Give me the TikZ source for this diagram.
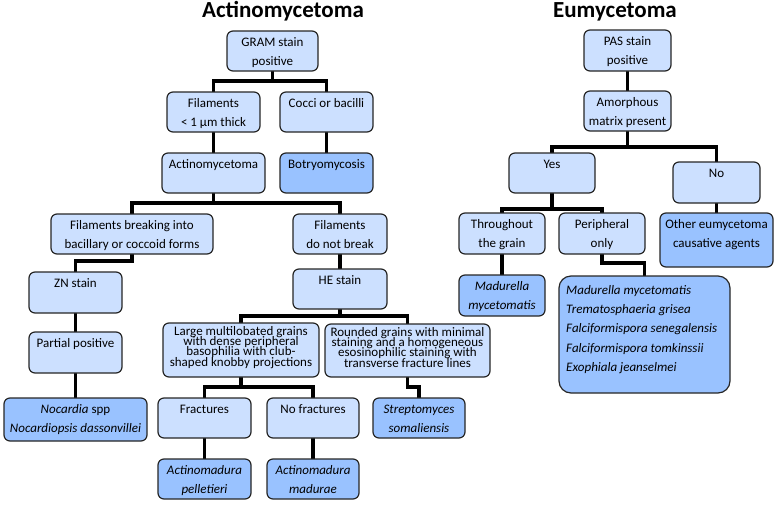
\documentclass[tikz,border=0pt]{standalone}
\usepackage{fontspec}
\setmainfont{Carlito}
\usetikzlibrary{backgrounds}
\definecolor{lightblue}{RGB}{204,224,255}
\definecolor{darkblue}{RGB}{153,194,255}
\tikzset{
  boxbase/.style={draw=black!85, line width=1.2pt, rounded corners=6pt, inner sep=0pt, outer sep=0pt},
  lightbox/.style={boxbase, fill=lightblue},
  darkbox/.style={boxbase, fill=darkblue},
  txt/.style={inner sep=0pt, align=center, font={\fontsize{13}{19}\selectfont}, yshift=-5.5pt},
  dense/.style={inner sep=0pt, align=center, font={\fontsize{13}{10.3}\selectfont\lineskiplimit=-100pt\lineskip=0pt}, yshift=-2pt},
  conn/.style={line width=3.5pt, draw=black},
  title/.style={font={\fontsize{23}{28}\selectfont\bfseries}, inner sep=0pt, anchor=base}
}
\newcommand\mkbox[8]{%
  \node[#6, minimum width={(#4)-(#2)}, minimum height={(#5)-(#3)}] (#1) at ({((#2)+(#4))/2},{((#3)+(#5))/2}) {};
  \node[#7, anchor=north] (#1t) at (#1.north) {\rule{0pt}{10pt}#8};}
\begin{document}
\begin{tikzpicture}[x=1pt,y=-1pt]
\useasboundingbox (0,0) rectangle (777,504);
% titles
\node[title] (t1) at (283,17.5) {Actinomycetoma};
\node[title] (t2) at (615,17.5) {Eumycetoma};
% Actinomycetoma
\mkbox{gram}{227}{31}{318}{71}{lightbox}{txt}{GRAM stain\\positive}
\mkbox{fil}{167}{92}{260}{132}{lightbox}{txt}{Filaments\\< 1 μm thick}
\mkbox{cocci}{280}{92}{373}{132}{lightbox}{txt}{Cocci or bacilli}
\mkbox{actino}{162}{153}{265}{193}{lightbox}{txt}{Actinomycetoma}
\mkbox{botryo}{280}{153}{373}{193}{darkbox}{txt}{Botryomycosis}
\mkbox{fbreak}{51}{214}{213}{254}{lightbox}{txt}{Filaments breaking into\\bacillary or coccoid forms}
\mkbox{fnob}{293}{214}{387}{254}{lightbox}{txt}{Filaments\\do not break}
\mkbox{zn}{29}{272}{122}{313}{lightbox}{txt}{ZN stain}
\mkbox{he}{293}{269}{387}{309}{lightbox}{txt}{HE stain}
\mkbox{partial}{29}{332}{122}{373}{lightbox}{txt}{Partial positive}
\mkbox{large}{163}{323}{319}{377}{lightbox}{dense}{Large multilobated grains\\with dense peripheral\\basophilia with club-\\shaped knobby projections}
\mkbox{round}{325}{324}{490}{377}{lightbox}{dense}{Rounded grains with minimal\\staining and a homogeneous\\esosinophilic staining with\\transverse fracture lines}
\mkbox{nocardia}{4}{398}{147}{441}{darkbox}{txt}{\textit{Nocardia} spp\\\textit{Nocardiopsis dassonvillei}}
\mkbox{fract}{158}{398}{251}{438}{lightbox}{txt}{Fractures}
\mkbox{nofract}{267}{398}{359}{438}{lightbox}{txt}{No fractures}
\mkbox{strep}{373}{398}{465}{438}{darkbox}{txt}{\textit{Streptomyces}\\\textit{somaliensis}}
\mkbox{apel}{158}{459}{251}{499}{darkbox}{txt}{\textit{Actinomadura}\\\textit{pelletieri}}
\mkbox{amad}{267}{459}{359}{499}{darkbox}{txt}{\textit{Actinomadura}\\\textit{madurae}}
% Eumycetoma
\mkbox{pas}{584}{30}{671}{71}{lightbox}{txt}{PAS stain\\positive}
\mkbox{amorph}{584}{91}{671}{131}{lightbox}{txt}{Amorphous\\matrix present}
\mkbox{yes}{509}{153}{595}{193}{lightbox}{txt}{Yes}
\mkbox{no}{673}{162}{760}{203}{lightbox}{txt}{No}
\mkbox{through}{459}{213}{545}{254}{lightbox}{txt}{Throughout\\the grain}
\mkbox{periph}{559}{213}{645}{254}{lightbox}{txt}{Peripheral\\only}
\mkbox{other}{660}{213}{773}{267}{darkbox}{txt}{Other eumycetoma\\causative agents}
\mkbox{madm}{459}{275}{545}{316}{darkbox}{txt}{\textit{Madurella}\\\textit{mycetomatis}}
\node[darkbox, rounded corners=12pt, minimum width=171, minimum height=117] (big) at (644.5,334.5) {};
\node[inner sep=0pt, anchor=north west, align=left, font={\fontsize{13}{19.3}\selectfont}] (bigt) at (566,284)
  {\rule{0pt}{10pt}\textit{Madurella mycetomatis}\\\textit{Trematosphaeria grisea}\\\textit{Falciformispora senegalensis}\\\textit{Falciformispora tomkinssii}\\\textit{Exophiala jeanselmei}};
% connectors
\begin{pgfonlayer}{background}
\draw[conn] (gram.south) -- ++(0,10) -| (fil.north);
\draw[conn] (gram.south) -- ++(0,10) -| (cocci.north);
\draw[conn] (fil.south) -- (actino.north);
\draw[conn] (cocci.south) -- (botryo.north);
\draw[conn] (actino.south) -- ++(0,10) -| (fbreak.north);
\draw[conn] (actino.south) -- ++(0,10) -| (fnob.north);
\draw[conn] (fbreak.south) -- ++(0,7) -| (zn.north);
\draw[conn] (fnob.south) -- (he.north);
\draw[conn] (zn.south) -- (partial.north);
\draw[conn] (partial.south) -- (nocardia.north);
\draw[conn] (he.south) -- ++(0,7) -| (large.north);
\draw[conn] (he.south) -- ++(0,7) -| (round.north);
\draw[conn] (large.south) -- ++(0,10) -| (fract.north);
\draw[conn] (large.south) -- ++(0,10) -| (nofract.north);
\draw[conn] (round.south) -- ++(0,10) -| (strep.north);
\draw[conn] (fract.south) -- (apel.north);
\draw[conn] (nofract.south) -- (amad.north);
\draw[conn] (pas.south) -- (amorph.north);
\draw[conn] (amorph.south) -- ++(0,16) -| (yes.north);
\draw[conn] (amorph.south) -- ++(0,16) -| (no.north);
\draw[conn] (yes.south) -- ++(0,16) -| (through.north);
\draw[conn] (yes.south) -- ++(0,16) -| (periph.north);
\draw[conn] (no.south) -- (other.north);
\draw[conn] (through.south) -- (madm.north);
\draw[conn] (periph.south) -- ++(0,9) -| (big.north);
\end{pgfonlayer}
\end{tikzpicture}
\end{document}
